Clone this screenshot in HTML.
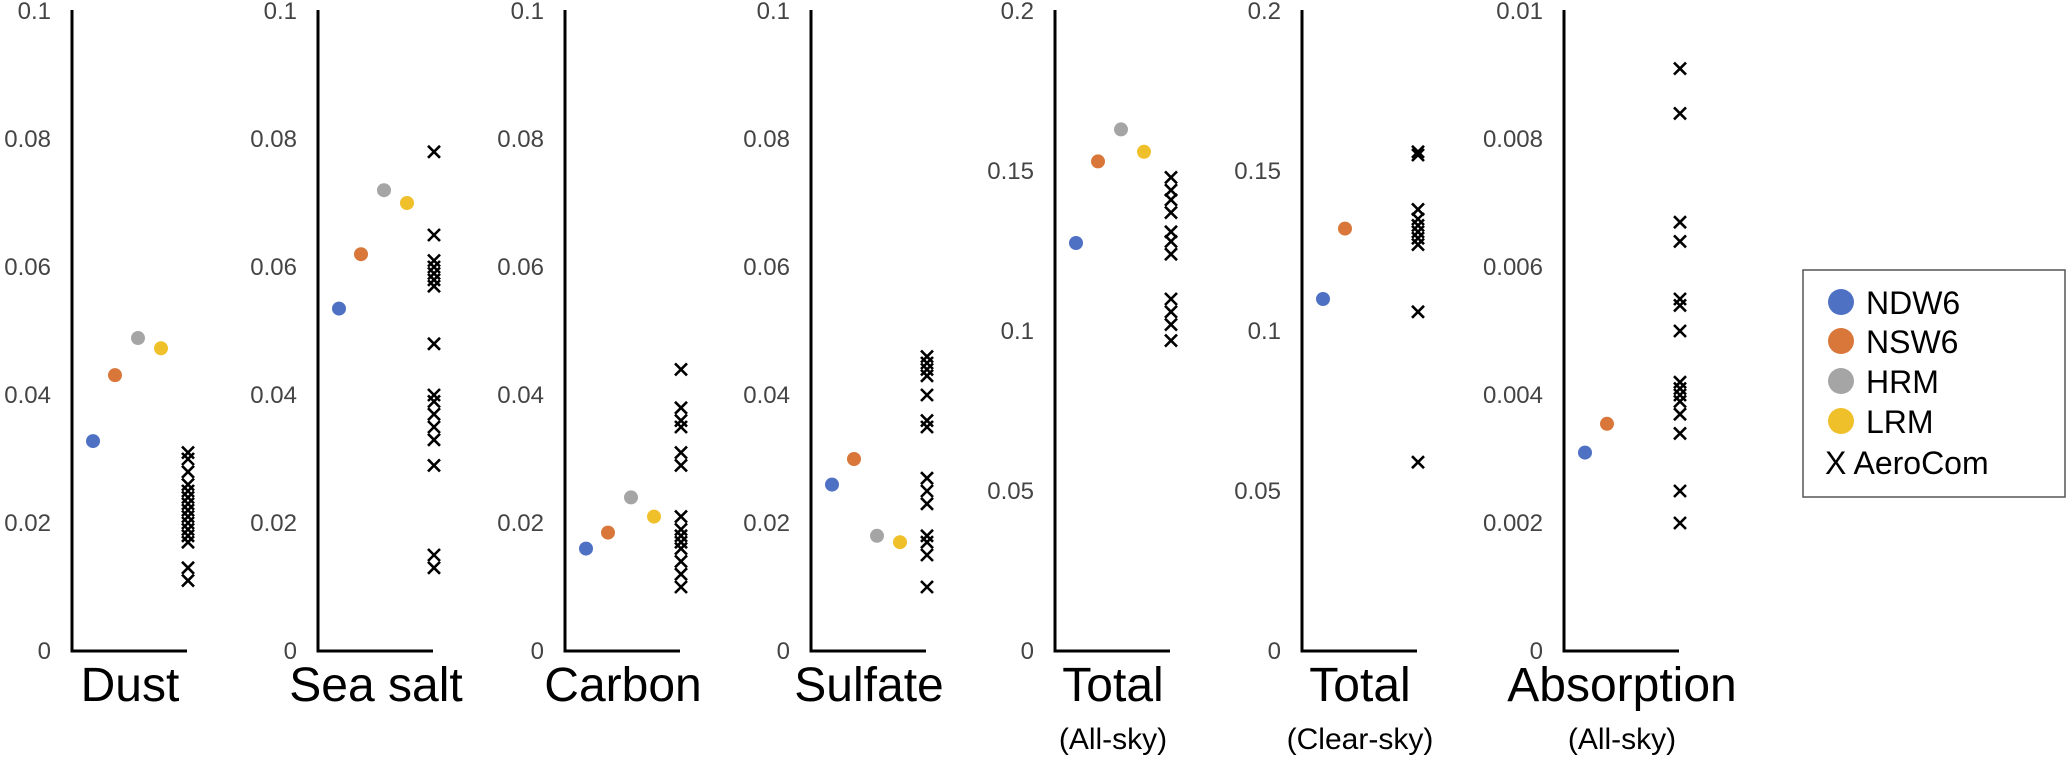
<!DOCTYPE html>
<html><head><meta charset="utf-8">
<style>
html,body{margin:0;padding:0;background:#fff;}
svg{display:block;}
text{font-family:"Liberation Sans",sans-serif;}
</style></head>
<body>
<svg id="chart" width="2067" height="762" viewBox="0 0 2067 762" xmlns="http://www.w3.org/2000/svg">
  <g id="panels"></g>
  <g id="legend">
    <rect x="1803" y="270" width="262" height="227" fill="#fff" stroke="#555" stroke-width="1.5"/>
    <g><circle cx="1841" cy="302" r="13" fill="#4f71c4"/><text x="1866" y="314" font-size="32">NDW6</text></g>
    <g><circle cx="1841" cy="341" r="13" fill="#d9773a"/><text x="1866" y="353" font-size="32">NSW6</text></g>
    <g><circle cx="1841" cy="381" r="13" fill="#a5a5a5"/><text x="1866" y="393" font-size="32">HRM</text></g>
    <g><circle cx="1841" cy="421" r="13" fill="#f0c02a"/><text x="1866" y="433" font-size="32">LRM</text></g>
    <g><text x="1825" y="474" font-size="32">X AeroCom</text></g>
  </g>
</svg>
<script>
// ---- data ----
const panelTitles = ["Dust","Sea salt","Carbon","Sulfate","Total","Total","Absorption"];
const panelSubtitles = ["","","","","(All-sky)","(Clear-sky)","(All-sky)"];
const axisMax = [0.1,0.1,0.1,0.1,0.2,0.2,0.01];
const tickLabels = [
  ["0","0.02","0.04","0.06","0.08","0.1"],
  ["0","0.02","0.04","0.06","0.08","0.1"],
  ["0","0.02","0.04","0.06","0.08","0.1"],
  ["0","0.02","0.04","0.06","0.08","0.1"],
  ["0","0.05","0.1","0.15","0.2"],
  ["0","0.05","0.1","0.15","0.2"],
  ["0","0.002","0.004","0.006","0.008","0.01"]
];
const seriesNames = ["NDW6","NSW6","HRM","LRM"];
const ndw6 = [0.0328,0.0535,0.016,0.026,0.1275,0.110,0.0031];
const nsw6 = [0.0431,0.062,0.0185,0.030,0.153,0.132,0.00355];
const hrm  = [0.0489,0.072,0.024,0.018,0.163,null,null];
const lrm  = [0.0473,0.070,0.021,0.017,0.156,null,null];
const aerocom = [
  [0.031,0.030,0.028,0.026,0.025,0.024,0.023,0.022,0.021,0.020,0.019,0.018,0.017,0.013,0.011],
  [0.078,0.065,0.061,0.060,0.059,0.058,0.057,0.048,0.040,0.039,0.037,0.035,0.033,0.029,0.015,0.013],
  [0.044,0.038,0.036,0.035,0.031,0.029,0.021,0.019,0.018,0.017,0.016,0.014,0.012,0.010],
  [0.046,0.045,0.044,0.043,0.040,0.036,0.035,0.027,0.025,0.023,0.018,0.017,0.015,0.010],
  [0.148,0.144,0.141,0.137,0.131,0.128,0.124,0.110,0.106,0.102,0.097],
  [0.156,0.155,0.138,0.135,0.133,0.131,0.129,0.127,0.106,0.059],
  [0.0091,0.0084,0.0067,0.0064,0.0055,0.0054,0.0050,0.0042,0.0041,0.0040,0.0039,0.0037,0.0034,0.0025,0.0020]
];
// ---- layout ----
const NS = "http://www.w3.org/2000/svg";
const axisX = [72,318,565,811,1055,1302,1564];
const y0 = 651, plotH = 640;
const colors = ["#4f71c4","#d9773a","#a5a5a5","#f0c02a"];
const dotOffsets = [21,43,66,89];
const xOffset = 116;
function yScale(v,max){ return y0 - v/max*plotH; }
function mk(tag, attrs, parent){
  const e = document.createElementNS(NS, tag);
  for (const k in attrs) e.setAttribute(k, attrs[k]);
  parent.appendChild(e);
  return e;
}
const root = document.getElementById("panels");
const series = [ndw6,nsw6,hrm,lrm];
panelTitles.forEach((title,i)=>{
  const ax = axisX[i], max = axisMax[i];
  const g = mk("g",{},root);
  
  
  const axis = mk("path",{d:`M${ax} 10 L${ax} ${y0} L${ax+115} ${y0}`,fill:"none",stroke:"#000","stroke-width":3},g);
  
  
  const labs = tickLabels[i];
  labs.forEach((lab,j)=>{
    const v = max*j/(labs.length-1);
    const t = mk("text",{x:ax-21,y:yScale(v,max)+8,"text-anchor":"end","font-size":24,fill:"#444"},g);
    t.textContent = lab;
    
    
  });
  series.forEach((s,k)=>{
    if (s[i]==null) return;
    const c = mk("circle",{cx:ax+dotOffsets[k],cy:yScale(s[i],max),r:7,fill:colors[k]},g);
    
    
  });
  aerocom[i].forEach(v=>{
    const cx = ax+xOffset, cy = yScale(v,max), s=6;
    const p = mk("path",{d:`M${cx-s} ${cy-s} L${cx+s} ${cy+s} M${cx+s} ${cy-s} L${cx-s} ${cy+s}`,stroke:"#000","stroke-width":2.6,fill:"none"},g);
    
    
  });
  const tt = mk("text",{x:ax+58,y:701,"text-anchor":"middle","font-size":48,fill:"#000"},g);
  tt.textContent = title;
  
  
  if (panelSubtitles[i]){
    const st = mk("text",{x:ax+58,y:749,"text-anchor":"middle","font-size":30,fill:"#000"},g);
    st.textContent = panelSubtitles[i];
    
    
  }
});
</script>
</body></html>
